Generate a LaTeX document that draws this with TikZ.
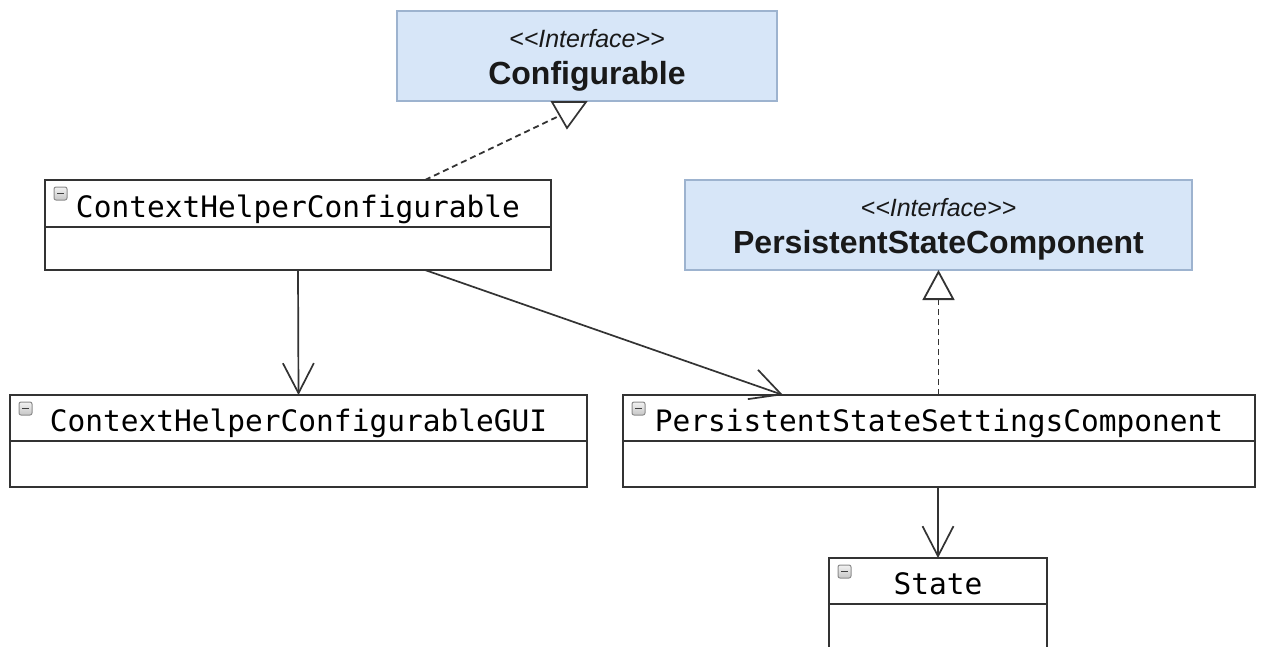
\documentclass[tikz,border=0pt]{standalone}
\usepackage{fontspec}
\usetikzlibrary{arrows.meta}
\newfontfamily\umlmono{DejaVu Sans Mono}
\newfontfamily\umlsans{Liberation Sans}
\definecolor{linec}{HTML}{333333}
\definecolor{ifill}{HTML}{D7E6F8}
\definecolor{idraw}{HTML}{9DB3CF}

\tikzset{
  classtitle/.style={draw=linec, line width=1.8pt, fill=white, anchor=north west,
    inner sep=0pt, outer sep=0pt, text height=27pt, text depth=0pt,
    font=\umlmono\fontsize{29.5}{32}\selectfont, text=black},
  classbody/.style={draw=linec, line width=1.8pt, fill=white, anchor=north west,
    inner sep=0pt, outer sep=0pt},
  iface/.style={draw=idraw, line width=1.8pt, fill=ifill, anchor=north west,
    inner sep=0pt, outer sep=0pt, align=center, font=\umlsans, text=black!90},
  collapse/.style={draw=gray!90, top color=gray!10, bottom color=gray!45,
    rounded corners=2pt, line width=1pt},
  assoc/.style={draw=linec, line width=1.7pt,
    -{Straight Barb[length=30pt,width=31pt]}},
  realize/.style={draw=linec, line width=1.8pt, dash pattern=on 6pt off 4pt},
}

% small collapse button in the top-left corner of a class title
\newcommand\minusicon[1]{%
  \draw[collapse] ([shift={(9,7)}]#1.north west) rectangle +(13,13);
  \draw[black!75, line width=1.8pt] ([shift={(12,13.5)}]#1.north west) -- +(7,0);
}

\begin{document}
\begin{tikzpicture}[x=1pt,y=-1pt]
\useasboundingbox (0,0) rectangle (1262,646);
\clip (0,0) rectangle (1262,646);
\fill[white] (0,0) rectangle (1262,646);

% interfaces
\node[iface, minimum width=380pt, minimum height=90pt] (cfg) at (397,11)
  {{\fontsize{25}{30}\selectfont\itshape\rule{0pt}{27pt}<\kern0pt<Interface>\kern0pt>}\\[12pt]
   {\fontsize{32}{36}\selectfont\bfseries Configurable}};
\node[iface, minimum width=507pt, minimum height=90pt] (psc) at (685,180)
  {{\fontsize{25}{30}\selectfont\itshape\rule{0pt}{27pt}<\kern0pt<Interface>\kern0pt>}\\[12pt]
   {\fontsize{32}{36}\selectfont\bfseries PersistentStateComponent}};

% classes: title compartment + empty body compartment
\node[classtitle, minimum width=506pt, minimum height=47pt] (chc) at (45,180)
  {ContextHelperConfigurable};
\node[classbody, minimum width=506pt, minimum height=43pt] (chcb) at (45,227) {};

\node[classtitle, minimum width=577pt, minimum height=46pt] (gui) at (10,395)
  {ContextHelperConfigurableGUI};
\node[classbody, minimum width=577pt, minimum height=46pt] (guib) at (10,441) {};

\node[classtitle, minimum width=632pt, minimum height=46pt] (pssc) at (623,395)
  {PersistentStateSettingsComponent};
\node[classbody, minimum width=632pt, minimum height=46pt] (psscb) at (623,441) {};

\node[classtitle, minimum width=218pt, minimum height=46pt] (state) at (829,558)
  {State};
\node[classbody, minimum width=218pt, minimum height=60pt] (stateb) at (829,604) {};

\minusicon{chc}
\minusicon{gui}
\minusicon{pssc}
\minusicon{state}

% realization of Configurable
\draw[linec, line width=1.7pt, fill=white] (552,102) -- (586,102) -- (567,128) -- cycle;
\coordinate (cfgtip) at (559,116);
\draw[realize] ([xshift=127pt]chc.north) -- (cfgtip);

% realization of PersistentStateComponent
\draw[realize, -{Triangle[open,length=30pt,width=32pt,fill=white]}]
  (pssc.north -| psc.south) -- (psc.south);

% associations
\draw[assoc] (chcb.south) -- (gui.north);
\draw[assoc] ([xshift=127pt]chcb.south) -- ([xshift=-156pt]pssc.north);
\draw[assoc] (state.north |- psscb.south) -- (state.north);
\end{tikzpicture}
\end{document}
